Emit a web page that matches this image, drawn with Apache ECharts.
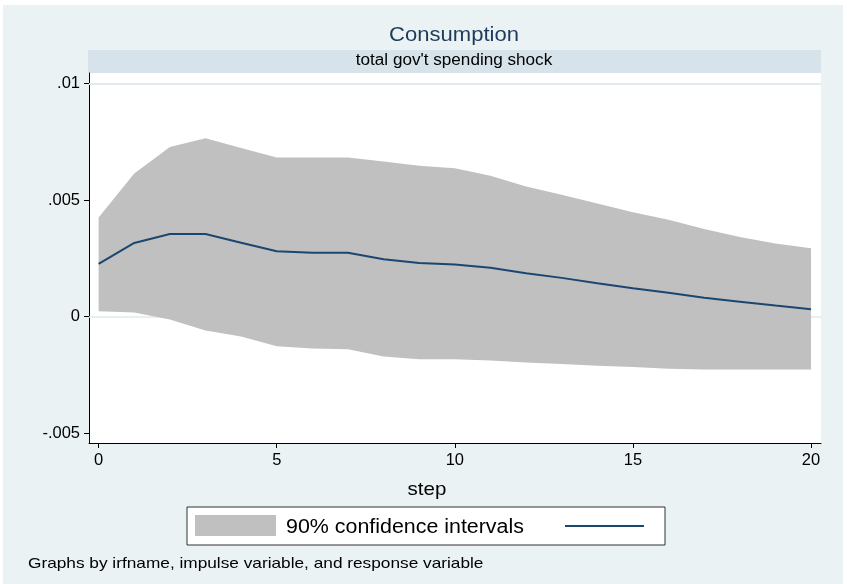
<!DOCTYPE html>
<html>
<head>
<meta charset="utf-8">
<script src="https://cdn.jsdelivr.net/npm/echarts@6/dist/echarts.min.js"></script>
<style>
html,body{margin:0;padding:0;background:#fff;}
#chart{width:847px;height:584px;}
</style>
</head>
<body>
<div id="chart"></div>
<script>
// ---- data ----
const steps = [0,1,2,3,4,5,6,7,8,9,10,11,12,13,14,15,16,17,18,19,20];
const irf = [0.00226,0.00316,0.00354,0.00354,0.00317,0.00280,0.00274,0.00274,0.00246,0.00230,0.00223,
             0.00209,0.00186,0.00166,0.00143,0.00121,0.00102,0.00081,0.00064,0.00047,0.00031];
const upperCI = [0.00425,0.00614,0.00728,0.00765,0.00724,0.00683,0.00683,0.00683,0.00665,0.00647,0.00637,
                 0.00604,0.00558,0.00523,0.00485,0.00448,0.00416,0.00376,0.00341,0.00314,0.00293];
const lowerCI = [0.00023,0.00017,-0.00013,-0.00060,-0.00086,-0.00127,-0.00137,-0.00140,-0.00171,-0.00183,-0.00183,
                 -0.00189,-0.00197,-0.00204,-0.00211,-0.00217,-0.00224,-0.00227,-0.00227,-0.00227,-0.00227];
const xTicks = [0,5,10,15,20];
const yTicks = [-0.005,0,0.005,0.01];
const yTickLabels = ['-.005','0','.005','.01'];
const titleText = 'Consumption';
const stripText = "total gov't spending shock";
const xAxisTitle = 'step';
const legendText = '90% confidence intervals';
const noteText = 'Graphs by irfname, impulse variable, and response variable';

const FONT = "'Liberation Sans', Arial, sans-serif";
const chart = echarts.init(document.getElementById('chart'), null, {renderer:'canvas'});

const bandData = steps.map((s,i)=>[s, lowerCI[i], upperCI[i]]);

const option = {
  animation: false,
  backgroundColor: '#eaf2f3',
  grid: {left: 89, right: 26, top: 73, bottom: 141, show: true, backgroundColor: '#ffffff', borderWidth: 0},
  xAxis: {
    type: 'value', min: -0.27, max: 20.28,
    axisLine: {show: true, onZero: false, lineStyle: {color: '#000', width: 1}},
    axisTick: {show: true, length: 5, customValues: xTicks, lineStyle: {color: '#000'}},
    axisLabel: {customValues: xTicks, color: '#000', fontFamily: FONT, fontSize: 16.5, margin: 9},
    splitLine: {show: false}
  },
  yAxis: {
    type: 'value', min: -0.005428, max: 0.010454,
    axisLine: {show: true, onZero: false, lineStyle: {color: '#000', width: 1}},
    axisTick: {show: true, length: 5, customValues: yTicks, lineStyle: {color: '#000'}},
    axisLabel: {customValues: yTicks, color: '#000', fontFamily: FONT, fontSize: 16.5, margin: 9,
      formatter: v => { const i = yTicks.findIndex(t => Math.abs(t - v) < 1e-9); return i >= 0 ? yTickLabels[i] : ''; }},
    splitLine: {show: false}
  },
  series: [
    {
      type: 'line', z: 1, data: [], silent: true,
      markLine: {
        z: 1, silent: true, symbol: 'none', animation: false,
        label: {show: false},
        lineStyle: {color: '#e1eaee', width: 1.5, type: 'solid'},
        data: yTicks.map(v => ({yAxis: v}))
      }
    },
    {
      type: 'custom', z: 2, silent: true,
      data: bandData,
      encode: {x: 0, y: [1, 2]},
      renderItem: function (params, api) {
        if (params.dataIndex !== 0) return null;
        const pts = [];
        for (let i = 0; i < steps.length; i++) pts.push(api.coord([steps[i], upperCI[i]]));
        for (let i = steps.length - 1; i >= 0; i--) pts.push(api.coord([steps[i], lowerCI[i]]));
        return {type: 'polygon', shape: {points: pts}, style: {fill: '#c0c0c0', stroke: null}};
      }
    },
    {
      type: 'line', z: 3, silent: true,
      data: steps.map((s,i)=>[s, irf[i]]),
      symbol: 'none', smooth: false,
      lineStyle: {color: '#1a476f', width: 2}
    }
  ],
  graphic: {
    elements: [
      // white outer margins
      {type: 'rect', left: 0, top: 0, shape: {width: 847, height: 5}, style: {fill: '#fff'}},
      {type: 'rect', left: 0, top: 0, shape: {width: 3, height: 584}, style: {fill: '#fff'}},
      {type: 'rect', left: 843, top: 0, shape: {width: 4, height: 584}, style: {fill: '#fff'}},
      // strip
      {type: 'rect', left: 88, top: 50, shape: {width: 733, height: 23}, style: {fill: '#d7e3ea'}},
      {type: 'text', x: 454, y: 61, scaleX: 1.07, style: {text: stripText, fill: '#000', font: '16px ' + FONT, textAlign: 'center', textVerticalAlign: 'middle'}},
      // title
      {type: 'text', x: 454, y: 35, scaleX: 1.05, style: {text: titleText, fill: '#1e3a5c', font: '21px ' + FONT, textAlign: 'center', textVerticalAlign: 'middle'}},
      // x axis title
      {type: 'text', x: 427, y: 490, scaleX: 1.08, style: {text: xAxisTitle, fill: '#000', font: '19px ' + FONT, textAlign: 'center', textVerticalAlign: 'middle'}},
      // legend
      {type: 'rect', shape: {x: 187, y: 507, width: 478, height: 38}, style: {fill: '#fff', stroke: '#333', lineWidth: 1}},
      {type: 'rect', shape: {x: 195, y: 515, width: 81, height: 21}, style: {fill: '#c0c0c0'}},
      {type: 'text', x: 286, y: 527, scaleX: 1.07, style: {text: legendText, fill: '#000', font: '20px ' + FONT, textAlign: 'left', textVerticalAlign: 'middle'}},
      {type: 'line', shape: {x1: 565, y1: 526, x2: 644, y2: 526}, style: {stroke: '#1a476f', lineWidth: 2}},
      // note
      {type: 'text', x: 28, y: 564, scaleX: 1.15, style: {text: noteText, fill: '#000', font: '15px ' + FONT, textAlign: 'left', textVerticalAlign: 'middle'}}
    ]
  }
};
chart.setOption(option);
</script>
</body>
</html>
